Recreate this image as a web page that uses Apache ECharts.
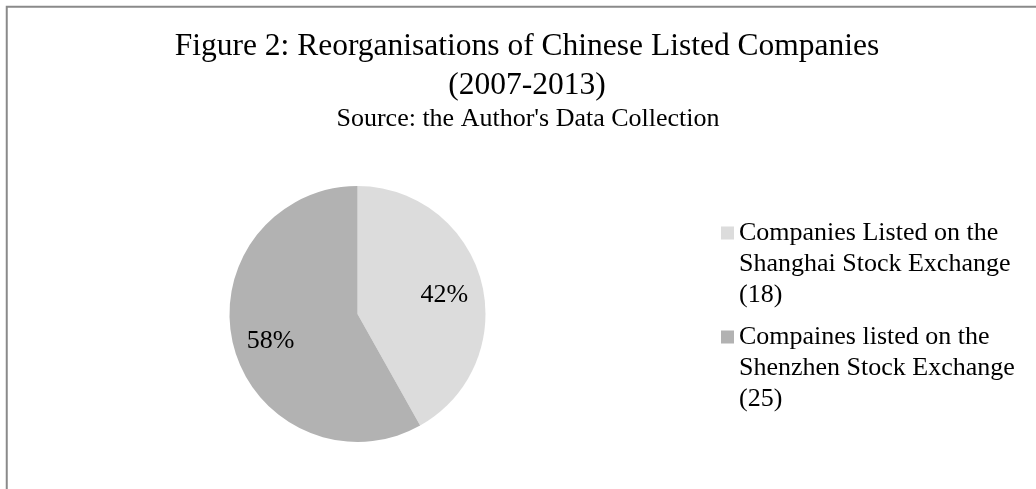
<!DOCTYPE html>
<html>
<head>
<meta charset="utf-8">
<script src="https://cdn.jsdelivr.net/npm/echarts@6/dist/echarts.min.js"></script>
<style>
html,body{margin:0;padding:0;background:#fff;}
#chart{width:1036px;height:489px;}
</style>
</head>
<body>
<div id="chart"></div>
<script>
// ---- data ----
var titleText = 'Figure 2: Reorganisations of Chinese Listed Companies';
var titleYears = '(2007-2013)';
var subtitleText = "Source: the Author's Data Collection";
var categoryLines = [
  ['Companies Listed on the', 'Shanghai Stock Exchange'],
  ['Compaines listed on the', 'Shenzhen Stock Exchange']
];
var counts = [18, 25];
var colors = ['#dcdcdc', '#b2b2b2'];

// ---- chart ----
var FONT = '"Liberation Serif", "Times New Roman", serif';
var pieCenter = [357.5, 314];
var pieRadius = 128;

var names = categoryLines.map(function (l) { return l.join(' '); });
var data = names.map(function (n, i) {
  return { name: n, value: counts[i], itemStyle: { color: colors[i] } };
});

var chart = echarts.init(document.getElementById('chart'), null, { renderer: 'canvas' });
chart.setOption({
  backgroundColor: '#ffffff',
  animation: false,
  graphic: [{
    type: 'rect',
    shape: { x: 6.75, y: 6.75, width: 3000, height: 3000 },
    style: { fill: 'none', stroke: '#8a8a8a', lineWidth: 2 },
    silent: true
  }],
  title: [{
    text: titleText + '\n' + titleYears,
    left: 527,
    top: 27,
    textAlign: 'center',
    padding: 0,
    textStyle: { fontFamily: FONT, fontSize: 31.5, fontWeight: 'normal', color: '#000', lineHeight: 39 }
  }, {
    text: subtitleText,
    left: 528,
    top: 106,
    textAlign: 'center',
    padding: 0,
    textStyle: { fontFamily: FONT, fontSize: 26, fontWeight: 'normal', color: '#000', lineHeight: 26 }
  }],
  legend: {
    orient: 'vertical',
    left: 721,
    top: 217.5,
    padding: 0,
    itemWidth: 13,
    itemHeight: 93,
    itemGap: 11,
    icon: 'path://M0,0L0,0M0,9L13,9L13,22L0,22ZM0,93L0,93',
    itemStyle: { borderWidth: 0 },
    selectedMode: false,
    formatter: function (name) {
      var i = names.indexOf(name);
      return categoryLines[i].join('\n') + '\n(' + counts[i] + ')';
    },
    textStyle: { fontFamily: FONT, fontSize: 26, color: '#000', lineHeight: 31 }
  },
  series: [{
    type: 'pie',
    center: pieCenter,
    radius: [0, pieRadius],
    startAngle: 90,
    clockwise: true,
    avoidLabelOverlap: false,
    itemStyle: { borderWidth: 0 },
    emphasis: { disabled: true },
    label: {
      show: true,
      position: 'inside',
      fontFamily: FONT,
      fontSize: 26,
      color: '#000',
      formatter: function (p) { return Math.round(p.percent) + '%'; }
    },
    labelLine: { show: false },
    labelLayout: function (p) {
      var r = p.labelRect;
      var cx = r.x + r.width / 2, cy = r.y + r.height / 2;
      var k = 0.34;
      return { dx: (cx - pieCenter[0]) * k, dy: (cy - pieCenter[1]) * k + 4 };
    },
    data: data
  }]
});
</script>
</body>
</html>
